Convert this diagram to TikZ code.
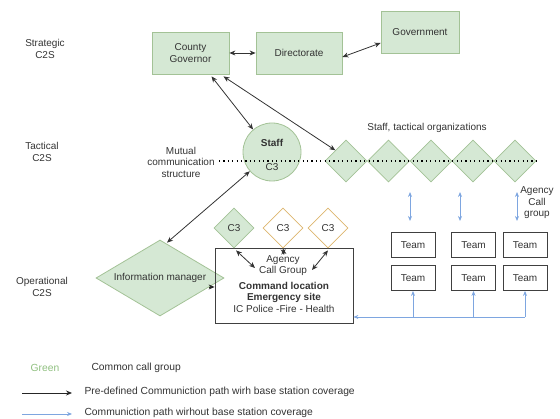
\documentclass[tikz,border=0pt]{standalone}
\usepackage{fontspec}
\setmainfont{Liberation Sans}
\usetikzlibrary{shapes.geometric,arrows.meta}
\definecolor{gfill}{HTML}{D5E8D4}
\definecolor{gline}{HTML}{A3C296}
\definecolor{oline}{HTML}{DDB66E}
\definecolor{txt}{HTML}{333333}
\definecolor{bline}{HTML}{7EA6E0}
\definecolor{legg}{HTML}{8FBF7F}
\tikzset{
  every node/.style={font=\fontsize{10}{11.5}\selectfont, text=txt, align=center},
  gbox/.style={draw=gline, fill=gfill, line width=0.8pt, minimum width=77pt, minimum height=42pt, inner sep=0pt},
  gdia/.style={diamond, draw=gline, fill=gfill, line width=0.8pt, minimum width=42pt, minimum height=42pt, inner sep=0pt},
  odia/.style={diamond, draw=oline, fill=white, line width=0.8pt, minimum width=42pt, minimum height=42pt, inner sep=0pt},
  teambox/.style={draw=black!75, line width=0.8pt, minimum width=44pt, minimum height=25pt, inner sep=0pt},
  dbl/.style={{Stealth[length=6pt,width=5pt]}-{Stealth[length=6pt,width=5pt]}, draw=black!80, line width=0.8pt},
  sarrow/.style={-{Stealth[length=6pt,width=5pt]}, draw=black!85, line width=0.8pt},
  bdbl/.style={{Stealth[length=5pt,width=4pt]}-{Stealth[length=5pt,width=4pt]}, draw=bline, line width=0.8pt},
  barrow/.style={-{Stealth[length=5pt,width=4pt]}, draw=bline, line width=0.8pt},
  dotline/.style={draw=black, line width=1.3pt, dash pattern=on 1.2pt off 3.2pt},
  legtext/.style={anchor=west, font=\fontsize{10.3}{12}\selectfont},
}
\begin{document}
\begin{tikzpicture}[x=1pt,y=-1pt]
\useasboundingbox (0,0) rectangle (560,419);
% level labels
\node (lstrat) at (45,49) {Strategic\\C2S};
\node (ltact) at (42,152) {Tactical\\C2S};
\node (loper) at (42,287) {Operational\\C2S};
% strategic boxes
\node[gbox] (cg) at (190.5,53) {County\\Governor};
\node[gbox, minimum width=86pt] (dir) at (299,53) {Directorate};
\node[gbox, minimum width=78pt] (gov) at (420,32) {Government};
\draw[dbl] (cg) -- (dir);
\draw[dbl] ([yshift=-4pt]dir.east) -- ([yshift=-11pt]gov.west);
% tactical
\node[circle, draw=gline, fill=gfill, line width=0.8pt, minimum size=58pt, inner sep=0pt] (staff) at (272,152) {};
\node[font=\fontsize{10}{11.5}\selectfont\bfseries] (stafft) at (272,143) {Staff};
\node (staffc) at (272,167) {C3};
\node (mutual) at (181,162) {Mutual\\communication\\structure};
\node (stto) at (427,128) {Staff, tactical organizations};
\foreach \i/\x in {1/346,2/388.5,3/431,4/473,5/515}{
  \node[gdia] (d\i) at (\x,161) {};
}
\coordinate (dotA) at (219,161);
\coordinate (dotB) at (537,161);
\draw[dotline] (dotA) -- (dotB);
\draw[dbl] ([xshift=21pt,yshift=-2pt]cg.south) -- (staff.130);
\draw[dbl] ([xshift=33pt,yshift=-2pt]cg.south) -- (d1.north west);
% agency call group label
\node (acg) at (537,203) {Agency\\Call\\group};
% blue vertical arrows
\foreach \x/\n in {410/1,460/2,517/3}{
  \coordinate (bt\n) at (\x,192);
  \coordinate (bb\n) at (\x,221);
  \draw[bdbl] (bt\n) -- (bb\n);
}
% teams
\foreach \x/\n in {413/1,473.5/2,525/3}{
  \node[teambox] (ta\n) at (\x,245) {Team};
  \node[teambox] (tb\n) at (\x,278) {Team};
}
% operational
\node[diamond, draw=gline, fill=gfill, line width=0.8pt, minimum width=128pt, minimum height=76pt, inner sep=0pt, aspect=1.7] (im) at (160,278) {Information manager};
\node[draw=black!75, line width=0.8pt, minimum width=138pt, minimum height=75pt, inner sep=0pt] (cmd) at (284,285.5) {};
\node (agcg) at (283,265.5) {Agency\\Call Group};
\node[font=\fontsize{10}{11.2}\selectfont\bfseries] (cmdt) at (284,292.5) {Command location\\Emergency site};
\node (ic) at (284,309) {IC Police -Fire - Health};
\node[gdia, minimum width=40pt, minimum height=40pt] (c3a) at (234,228) {C3};
\node[odia, minimum width=40pt, minimum height=40pt] (c3b) at (283,228) {C3};
\node[odia, minimum width=40pt, minimum height=40pt] (c3c) at (328,228) {C3};
\coordinate (ag1) at (255,268);
\coordinate (ag2) at (284,255);
\coordinate (ag3) at (312,270);
\draw[dbl] ([xshift=2pt,yshift=-2pt]c3a.south) -- (ag1);
\draw[dbl] (c3b.south) -- (ag2);
\draw[dbl] ([yshift=-2pt]c3c.south) -- (ag3);
\draw[dbl] (staff.221) -- ([xshift=7pt,yshift=-3pt]im.north);
\coordinate (imdot) at (209,287);
\draw[sarrow] (imdot) -- (cmd.west |- imdot);
% blue bottom lines
\coordinate (bl) at (525,317);
\draw[barrow] (bl) -- (cmd.east |- bl);
\foreach \n in {1,2,3}{
  \draw[barrow] (tb\n.south |- bl) -- (tb\n.south);
}
% legend
\node[text=legg, font=\fontsize{10.3}{12}\selectfont] (lgreen) at (45,368) {Green};
\node[legtext] (lcommon) at (88,368) {Common call group};
\coordinate (la1) at (22,393);
\coordinate (la2) at (72,393);
\draw[sarrow] (la1) -- (la2);
\node[legtext] (lpre) at (81,392) {Pre-defined Communiction path wirh base station coverage};
\coordinate (lb1) at (22,414);
\coordinate (lb2) at (72,414);
\draw[barrow] (lb1) -- (lb2);
\node[legtext] (lcom) at (81,413) {Communiction path wirhout base station coverage};
\end{tikzpicture}
\end{document}
